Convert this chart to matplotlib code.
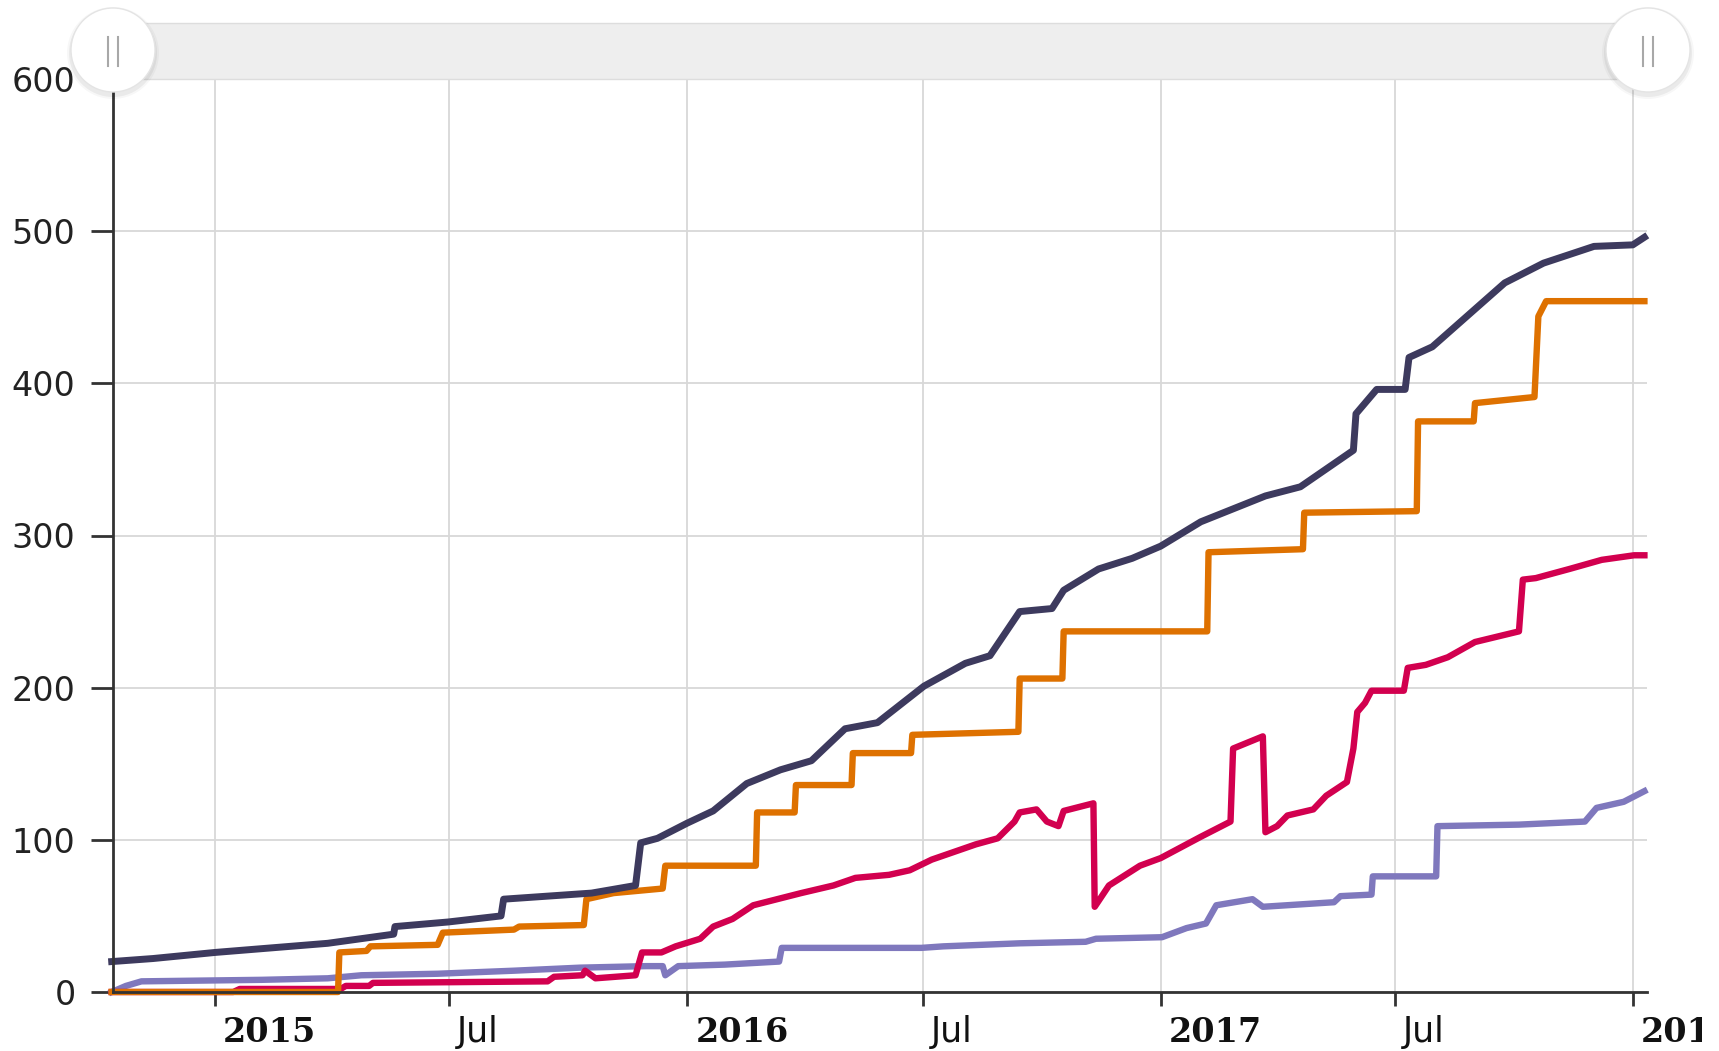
import pandas as pd
import matplotlib
matplotlib.use("Agg")
import matplotlib.pyplot as plt
from matplotlib.patches import Circle, Rectangle
from matplotlib.transforms import Bbox, ScaledTranslation

# cumulative counts per series
navy_dates = ["2014-10-13", "2014-11-14", "2015-01-01", "2015-03-29", "2015-05-19", "2015-05-20",
              "2015-06-30", "2015-08-10", "2015-08-12", "2015-10-19", "2015-11-22", "2015-11-26",
              "2015-12-09", "2016-01-01", "2016-01-21", "2016-02-16", "2016-03-13", "2016-04-06",
              "2016-05-02", "2016-05-27", "2016-07-02", "2016-08-03", "2016-08-22", "2016-09-14",
              "2016-10-09", "2016-10-18", "2016-11-14", "2016-12-10", "2017-01-01", "2017-02-01",
              "2017-03-23", "2017-04-19", "2017-05-30", "2017-06-01", "2017-06-17", "2017-07-09",
              "2017-07-12", "2017-07-30", "2017-08-31", "2017-09-24", "2017-10-24", "2017-12-02",
              "2018-01-01", "2018-01-10"]
navy_vals = [20, 22, 26, 32, 38, 43,
             46, 50, 61, 65, 70, 98,
             101, 111, 119, 137, 146, 152,
             173, 177, 201, 216, 221, 250,
             252, 264, 278, 285, 293, 309,
             326, 332, 356, 380, 396, 396,
             417, 424, 448, 466, 479, 490,
             491, 496]

orange_dates = ["2014-10-13", "2015-04-06", "2015-04-07", "2015-04-28", "2015-05-01", "2015-06-22",
                "2015-06-26", "2015-08-20", "2015-08-24", "2015-10-13", "2015-10-15", "2015-11-05",
                "2015-12-13", "2015-12-15", "2016-02-23", "2016-02-24", "2016-03-24", "2016-03-25",
                "2016-05-07", "2016-05-08", "2016-06-22", "2016-06-23", "2016-09-13", "2016-09-14",
                "2016-10-17", "2016-10-18", "2017-02-06", "2017-02-07", "2017-04-21", "2017-04-22",
                "2017-07-18", "2017-07-19", "2017-08-31", "2017-09-01", "2017-10-17", "2017-10-20",
                "2017-10-26", "2018-01-10"]
orange_vals = [0, 0, 26, 27, 30, 31,
               39, 41, 43, 44, 61, 65,
               68, 83, 83, 118, 118, 136,
               136, 157, 157, 169, 171, 206,
               206, 237, 237, 289, 291, 315,
               316, 375, 375, 387, 391, 444,
               454, 454]

crimson_dates = ["2014-10-13", "2015-01-15", "2015-01-20", "2015-04-08", "2015-04-12", "2015-04-30",
                 "2015-05-03", "2015-09-15", "2015-09-20", "2015-10-12", "2015-10-14", "2015-10-22",
                 "2015-11-22", "2015-11-27", "2015-12-12", "2015-12-23", "2016-01-11", "2016-01-21",
                 "2016-02-05", "2016-02-21", "2016-03-29", "2016-04-23", "2016-05-10", "2016-06-05",
                 "2016-06-21", "2016-07-08", "2016-07-25", "2016-08-11", "2016-08-28", "2016-09-10",
                 "2016-09-14", "2016-09-27", "2016-10-05", "2016-10-14", "2016-10-18", "2016-11-10",
                 "2016-11-11", "2016-11-22", "2016-12-16", "2017-01-01", "2017-02-01", "2017-02-24",
                 "2017-02-26", "2017-03-21", "2017-03-23", "2017-04-01", "2017-04-09", "2017-04-29",
                 "2017-05-09", "2017-05-25", "2017-05-30", "2017-06-02", "2017-06-08", "2017-06-13",
                 "2017-07-08", "2017-07-11", "2017-07-25", "2017-08-11", "2017-09-01", "2017-10-05",
                 "2017-10-08", "2017-10-18", "2017-11-13", "2017-12-08", "2018-01-02", "2018-01-10"]
crimson_vals = [0, 0, 2, 2, 4, 4,
                6, 7, 10, 11, 14, 9,
                11, 26, 26, 30, 35, 43,
                48, 57, 65, 70, 75, 77,
                80, 87, 92, 97, 101, 112,
                118, 120, 112, 109, 119, 124,
                56, 70, 83, 88, 102, 112,
                160, 168, 105, 109, 116, 120,
                129, 138, 160, 184, 190, 198,
                198, 213, 215, 220, 230, 237,
                271, 272, 278, 284, 287, 287]

lavender_dates = ["2014-10-13", "2014-10-24", "2014-11-05", "2015-02-06", "2015-03-29", "2015-04-24",
                  "2015-06-22", "2015-08-20", "2015-10-10", "2015-11-30", "2015-12-13", "2015-12-15",
                  "2015-12-25", "2016-01-30", "2016-03-12", "2016-03-14", "2016-06-30", "2016-07-17",
                  "2016-09-14", "2016-11-04", "2016-11-12", "2017-01-02", "2017-01-21", "2017-02-05",
                  "2017-02-13", "2017-03-13", "2017-03-21", "2017-05-15", "2017-05-20", "2017-06-13",
                  "2017-06-14", "2017-08-02", "2017-08-03", "2017-10-05", "2017-11-25", "2017-12-04",
                  "2017-12-25", "2018-01-10"]
lavender_vals = [0, 4, 7, 8, 9, 11,
                 12, 14, 16, 17, 17, 11,
                 17, 18, 20, 29, 29, 30,
                 32, 33, 35, 36, 42, 45,
                 57, 61, 56, 59, 63, 64,
                 76, 76, 109, 110, 112, 121,
                 125, 132]

series = [
    (lavender_dates, lavender_vals, "#7f78bd", 4.6),
    (crimson_dates, crimson_vals, "#d2004f", 4.6),
    (orange_dates, orange_vals, "#de7100", 4.6),
    (navy_dates, navy_vals, "#3d3a5e", 5.0),
]

tick_dates = ["2015-01-01", "2015-07-01", "2016-01-01", "2016-07-01",
              "2017-01-01", "2017-07-01", "2018-01-01"]
tick_labels = ["2015", "Jul", "2016", "Jul", "2017", "Jul", "2018"]
y_ticks = [0, 100, 200, 300, 400, 500, 600]

W, H = 1719, 1051
fig = plt.figure(figsize=(W / 100, H / 100), dpi=100)
ax = fig.add_axes([113 / W, 59 / H, (1647 - 113) / W, 913 / H])

for d, v, c, lw in series:
    ax.plot(pd.to_datetime(d), v, color=c, lw=lw, clip_on=False, zorder=3)

ax.set_xlim(pd.Timestamp("2014-10-14"), pd.Timestamp("2018-01-12"))
ax.set_ylim(0, 600)

ax.set_yticks(y_ticks)
ax.set_yticklabels([str(v) for v in y_ticks], fontsize=24, color="#222222")
ax.set_xticks(pd.to_datetime(tick_dates))
ax.tick_params(axis="y", length=16, width=2, color="#333333", pad=11)
ax.tick_params(axis="x", length=10, width=2, color="#333333", labelbottom=False)

ax.grid(True, color="#d8d8d8", lw=1.3, zorder=0)
for s in ("top", "right"):
    ax.spines[s].set_visible(False)
for s in ("left", "bottom"):
    ax.spines[s].set_color("#333333")
    ax.spines[s].set_linewidth(2)
    ax.spines[s].set_zorder(4)

# x labels sit to the right of their tick, years in bold serif
clip = Bbox.from_extents(0, 0, 1702, H)
for d, lab in zip(tick_dates, tick_labels):
    off = ScaledTranslation(8 / 100, -40 / 100, fig.dpi_scale_trans)
    is_year = lab != "Jul"
    t = ax.text(pd.Timestamp(d), 0, lab, transform=ax.get_xaxis_transform() + off,
                ha="left", va="center", fontsize=24 if is_year else 25, color="#111111",
                family="DejaVu Serif" if is_year else "DejaVu Sans",
                fontweight="bold" if is_year else "normal")
    t.set_clip_on(True)
    t.set_clip_box(clip)

# range selector strip with its two handles
oax = fig.add_axes([0, 0, 1, 1], zorder=10)
oax.set_xlim(0, W)
oax.set_ylim(H, 0)
oax.axis("off")
oax.add_patch(Rectangle((113, 23), 1648 - 113, 56, fc="#eeeeee", ec="#dddddd", lw=1))
for cx in (113, 1648):
    for r, a in ((46, 0.03), (44, 0.05)):
        oax.add_patch(Circle((cx, 53), r, fc=(0, 0, 0, a), ec="none"))
    oax.add_patch(Circle((cx, 50), 42, fc="white", ec="#e4e4e4", lw=1))
    for dx in (-5, 5):
        oax.plot([cx + dx, cx + dx], [37, 66], color="#a8a8a8", lw=1.5)

fig.savefig("out.png", dpi=100)
